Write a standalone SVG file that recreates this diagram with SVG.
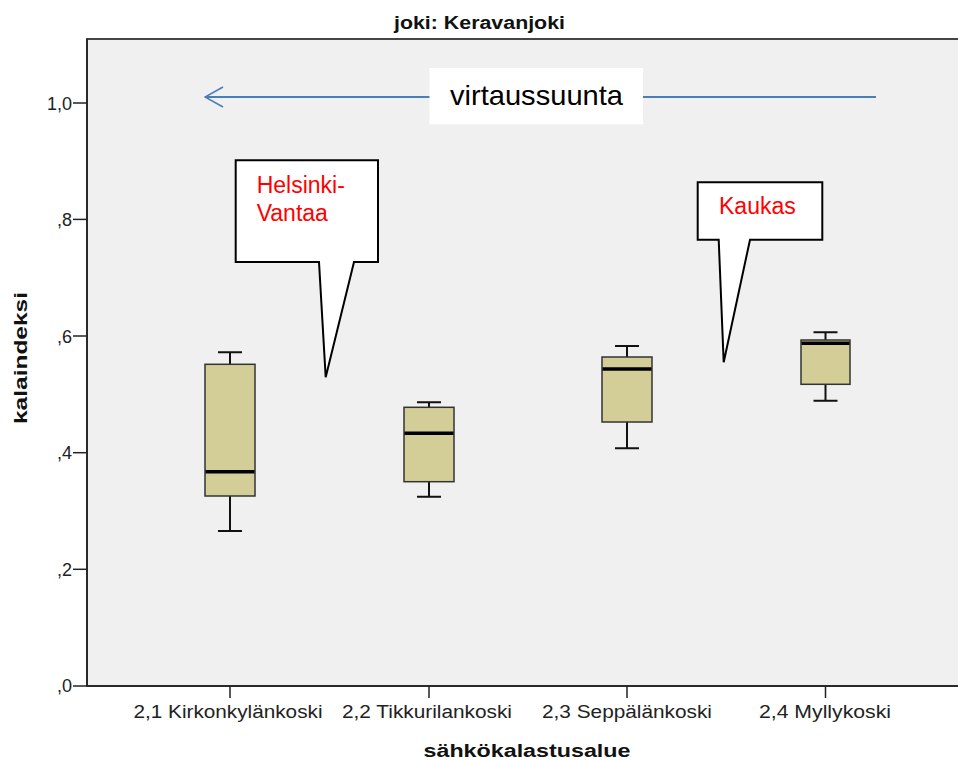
<svg xmlns="http://www.w3.org/2000/svg" width="958" height="760" viewBox="0 0 958 760">
<style>
.tick{font-family:"Liberation Sans",Arial,sans-serif;font-size:18px;fill:#222;text-anchor:end}
.xl{font-family:"Liberation Sans",Arial,sans-serif;font-size:18px;fill:#222;text-anchor:middle}
.ttl{font-family:"Liberation Sans",Arial,sans-serif;font-size:18px;font-weight:bold;fill:#111;text-anchor:middle}
.box{fill:#D3CE97;stroke:#333;stroke-width:1.5}
.med{stroke:#000;stroke-width:3.5}
.wh{stroke:#111;stroke-width:2;fill:none}
.call{fill:#fff;stroke:#000;stroke-width:2;stroke-linejoin:miter}
.red{font-family:"Liberation Sans",Arial,sans-serif;font-size:23px;fill:#FF0000}
.ax{stroke:#222;stroke-width:1.5}
</style>
<defs>
<marker id="open" viewBox="0 0 20 24" refX="19" refY="12" markerWidth="20" markerHeight="24" markerUnits="userSpaceOnUse" orient="auto">
<path d="M1,2 L19,12 L1,22" fill="none" stroke="#4A7EBB" stroke-width="1.6"/>
</marker>
</defs>
<rect width="958" height="760" fill="#fff"/>
<text class="ttl" x="479.5" y="29" textLength="171" lengthAdjust="spacingAndGlyphs">joki: Keravanjoki</text>
<g id="plot">
<rect x="87" y="39" width="875" height="647" fill="#F0F0F0" stroke="#444" stroke-width="2"/>
<line class="ax" x1="87" y1="39" x2="87" y2="686"/>
<line class="ax" x1="87" y1="686" x2="958" y2="686"/>
</g>
<g id="y-axis">
<line class="ax" x1="73" y1="103" x2="87" y2="103"/>
<line class="ax" x1="73" y1="219.4" x2="87" y2="219.4"/>
<line class="ax" x1="73" y1="336" x2="87" y2="336"/>
<line class="ax" x1="73" y1="452.7" x2="87" y2="452.7"/>
<line class="ax" x1="73" y1="569.3" x2="87" y2="569.3"/>
<line class="ax" x1="73" y1="686" x2="87" y2="686"/>
<text class="tick" x="72" y="110">1,0</text>
<text class="tick" x="72" y="226">,8</text>
<text class="tick" x="72" y="343">,6</text>
<text class="tick" x="72" y="459">,4</text>
<text class="tick" x="72" y="576">,2</text>
<text class="tick" x="72" y="692">,0</text>
<text class="ttl" transform="translate(27,358) rotate(-90)" font-size="19" textLength="132" lengthAdjust="spacingAndGlyphs">kalaindeksi</text>
</g>
<g id="x-axis">
<line class="ax" x1="230" y1="686" x2="230" y2="698"/>
<line class="ax" x1="429" y1="686" x2="429" y2="698"/>
<line class="ax" x1="627" y1="686" x2="627" y2="698"/>
<line class="ax" x1="825.5" y1="686" x2="825.5" y2="698"/>
<text class="xl" x="228" y="718" textLength="189" lengthAdjust="spacingAndGlyphs">2,1 Kirkonkylänkoski</text>
<text class="xl" x="427" y="718" textLength="170" lengthAdjust="spacingAndGlyphs">2,2 Tikkurilankoski</text>
<text class="xl" x="627" y="718" textLength="170" lengthAdjust="spacingAndGlyphs">2,3 Seppälänkoski</text>
<text class="xl" x="825" y="718" textLength="132" lengthAdjust="spacingAndGlyphs">2,4 Myllykoski</text>
<text class="ttl" x="527" y="757" textLength="207" lengthAdjust="spacingAndGlyphs">sähkökalastusalue</text>
</g>
<g id="box-kirkonkylankoski">
<path class="wh" d="M230,352.3 V364.3 M218,352.3 H242 M230,496 V531 M218,531 H242"/>
<rect class="box" x="205" y="364.3" width="50" height="131.7"/>
<line class="med" x1="205.5" y1="471.7" x2="254.5" y2="471.7"/>
</g>
<g id="box-tikkurilankoski">
<path class="wh" d="M429,402.3 V407.3 M417,402.3 H441 M429,481.7 V496.7 M417,496.7 H441"/>
<rect class="box" x="404" y="407.3" width="50" height="74.4"/>
<line class="med" x1="404.5" y1="433.3" x2="453.5" y2="433.3"/>
</g>
<g id="box-seppalankoski">
<path class="wh" d="M627,346 V357 M615,346 H639 M627,422 V448.3 M615,448.3 H639"/>
<rect class="box" x="602" y="357" width="50" height="65"/>
<line class="med" x1="602.5" y1="369" x2="651.5" y2="369"/>
</g>
<g id="box-myllykoski">
<path class="wh" d="M825.5,332.3 V340 M813.5,332.3 H837.5 M825.5,384.3 V400.7 M813.5,400.7 H837.5"/>
<rect class="box" x="801" y="340" width="49" height="44.3"/>
<line class="med" x1="801.5" y1="343.3" x2="849.5" y2="343.3"/>
</g>
<g id="connectors">
<line x1="876" y1="97" x2="205" y2="97" stroke="#4A7EBB" stroke-width="1.8" marker-end="url(#open)"/>
</g>
<g id="label-virtaussuunta">
<rect x="429.5" y="68" width="213.5" height="56.3" fill="#fff"/>
<text x="536.5" y="105" font-family="'Liberation Sans',Arial,sans-serif" font-size="28" fill="#000" text-anchor="middle" textLength="173" lengthAdjust="spacingAndGlyphs">virtaussuunta</text>
</g>
<g id="callout-helsinki-vantaa">
<path class="call" d="M235.7,160.3 H378 V262 H354 L325.7,377.3 L319,262 H235.7 Z"/>
<text class="red" x="256.7" y="192.7">Helsinki-</text>
<text class="red" x="256.7" y="221">Vantaa</text>
</g>
<g id="callout-kaukas">
<path class="call" d="M697.7,182.3 H822.3 V239.7 H750 L723.7,362.3 L718.7,239.7 H697.7 Z"/>
<text class="red" x="719" y="214.3">Kaukas</text>
</g>
</svg>
